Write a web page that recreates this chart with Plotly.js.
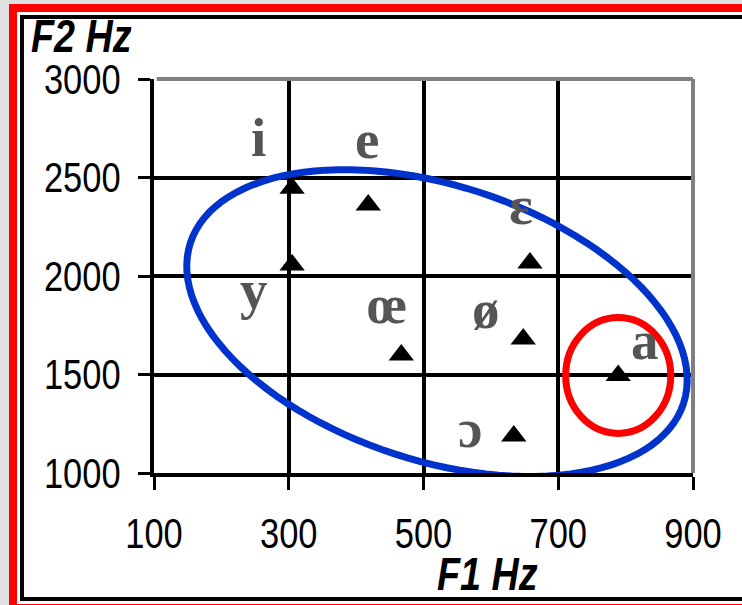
<!DOCTYPE html>
<html><head><meta charset="utf-8">
<script src="https://cdn.plot.ly/plotly-3.0.1.min.js"></script>
<style>
html,body{margin:0;padding:0;width:742px;height:605px;overflow:hidden;background:#e0e0e0;}
#red{position:absolute;left:9px;top:4px;width:800px;height:602px;background:#ff0000;}
#white{position:absolute;left:17px;top:12px;width:800px;height:592px;background:#ffffff;}
#black{position:absolute;left:20px;top:15px;width:800px;height:586px;box-sizing:border-box;border:4px solid #000;border-right:none;}
#plot{position:absolute;left:0;top:0;width:742px;height:605px;}
</style></head><body>
<div id="red"></div><div id="white"></div><div id="black"></div><div id="plot"></div>
<script>
// Data (French oral vowels, formant frequencies)
const vowels = ['i', 'e', 'ɛ', 'y', 'œ', 'ø', 'a', 'ɔ'];
const F1 = [305, 418, 658, 305, 467, 648, 789, 634];
const F2 = [2445, 2360, 2066, 2056, 1599, 1680, 1495, 1188];
const xTicks = [100, 300, 500, 700, 900];
const yTicks = [1000, 1500, 2000, 2500, 3000];

// Label placement (pixel offsets from each point) — layout only
const labelShiftX = [-34, -1, -9, -38, -14, -37, 27, -44];
const labelShiftY = [51, 66, 58, -25, 51, 30, 35, 7];

const sans = "'Liberation Sans', Arial, sans-serif";
const NARROW = 0.82; // squeeze factor to imitate a narrow face

function ellipsePath(cx, cy, ux, uy, vx, vy, n) {
  let d = '';
  for (let k = 0; k <= n; k++) {
    const t = 2 * Math.PI * k / n;
    const x = cx + ux * Math.cos(t) + vx * Math.sin(t);
    const y = cy + uy * Math.cos(t) + vy * Math.sin(t);
    d += (k === 0 ? 'M' : 'L') + x.toFixed(2) + ',' + y.toFixed(2);
  }
  return d + 'Z';
}

const aIdx = vowels.indexOf('a');

const trace = {
  type: 'scatter', mode: 'markers',
  x: F1, y: F2, text: vowels,
  marker: {symbol: 'triangle-up', size: 22, color: '#000000'},
  hoverinfo: 'text+x+y', showlegend: false
};

const annotations = vowels.map((v, i) => ({
  x: F1[i], y: F2[i], xref: 'x', yref: 'y', text: v, showarrow: false,
  xshift: labelShiftX[i], yshift: labelShiftY[i],
  xanchor: 'center', yanchor: 'middle',
  font: {family: "'Liberation Serif', 'Times New Roman', serif", size: 55, color: '#555555', weight: 'bold'}
}));
annotations.push({
  xref: 'paper', yref: 'paper', x: -0.1336, y: 1.108, text: 'F2 Hz', showarrow: false,
  xanchor: 'center', yanchor: 'middle',
  font: {family: sans, size: 46, color: '#000', weight: 'bold', style: 'italic'}
});
annotations.push({
  xref: 'paper', yref: 'paper', x: 0.618, y: -0.256, text: 'F1 Hz', showarrow: false,
  xanchor: 'center', yanchor: 'middle',
  font: {family: sans, size: 46, color: '#000', weight: 'bold', style: 'italic'}
});

const layout = {
  width: 742, height: 605,
  margin: {l: 154, r: 49, t: 79, b: 132, pad: 0},
  paper_bgcolor: 'rgba(0,0,0,0)', plot_bgcolor: 'rgba(0,0,0,0)',
  xaxis: {
    range: [100, 900], tickvals: xTicks, ticktext: xTicks.map(String),
    showgrid: true, gridcolor: '#000', gridwidth: 4,
    showline: true, linecolor: '#000', linewidth: 4,
    ticks: 'outside', ticklen: 13, tickwidth: 3, tickcolor: '#000',
    ticklabelstandoff: 8,
    tickfont: {family: sans, size: 42, color: '#000'},
    zeroline: false, fixedrange: true, automargin: false
  },
  yaxis: {
    range: [1000, 3000], tickvals: yTicks, ticktext: yTicks.map(String),
    showgrid: true, gridcolor: '#000', gridwidth: 4,
    showline: true, linecolor: '#000', linewidth: 4,
    ticks: 'outside', ticklen: 12, tickwidth: 3, tickcolor: '#000',
    ticklabelstandoff: 9,
    tickfont: {family: sans, size: 42, color: '#000'},
    zeroline: false, fixedrange: true, automargin: false
  },
  shapes: [
    {type: 'line', xref: 'paper', yref: 'paper', x0: 0.005, y0: 1, x1: 1, y1: 1, line: {color: '#808080', width: 4}},
    {type: 'line', xref: 'paper', yref: 'paper', x0: 1, y0: 0, x1: 1, y1: 1, line: {color: '#808080', width: 4}},
    {type: 'path', xref: 'x', yref: 'y', path: ellipsePath(520, 1761, 366, -407, -63, -664, 120),
     line: {color: '#0033cc', width: 7}},
    {type: 'circle', xref: 'x', yref: 'y',
     x0: F1[aIdx] - 78, x1: F1[aIdx] + 78, y0: F2[aIdx] - 294, y1: F2[aIdx] + 294,
     line: {color: '#ff0000', width: 7}}
  ],
  annotations: annotations,
  showlegend: false
};

function squeeze(el) {
  const len = el.getComputedTextLength();
  if (len > 0) {
    el.setAttribute('textLength', (len * NARROW).toFixed(2));
    el.setAttribute('lengthAdjust', 'spacingAndGlyphs');
  }
}

Plotly.newPlot('plot', [trace], layout, {displayModeBar: false, staticPlot: true}).then(gd => {
  gd.querySelectorAll('.xtick text, .ytick text').forEach(squeeze);
  gd.querySelectorAll('.annotation-text').forEach(el => {
    if (/Hz/.test(el.textContent)) squeeze(el);
  });
});
</script>
</body></html>
